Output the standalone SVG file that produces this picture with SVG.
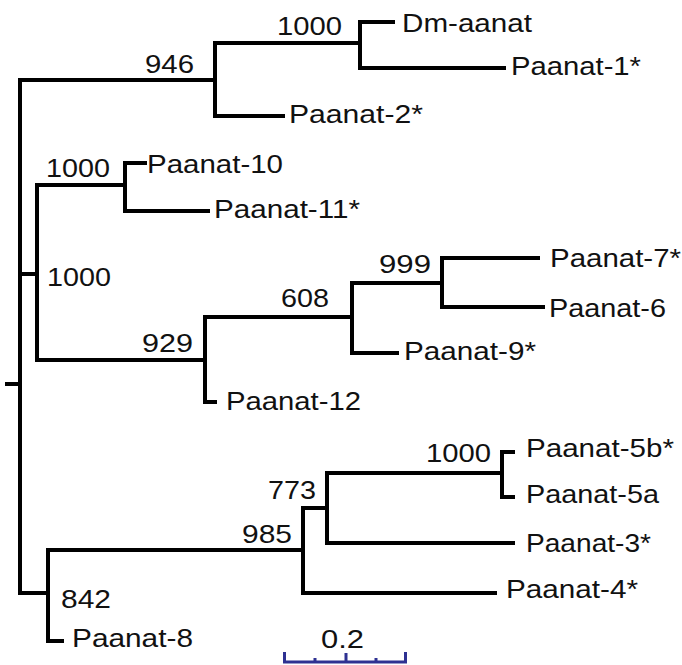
<svg xmlns="http://www.w3.org/2000/svg" width="682" height="665" viewBox="0 0 682 665">
  <style>
    .br { fill: none; stroke: #000; stroke-width: 4; stroke-linecap: square; }
    .lbl { font-family: "Liberation Sans", Arial, sans-serif; font-size: 25px; fill: #111; }
    .bs { font-family: "Liberation Sans", Arial, sans-serif; font-size: 25px; fill: #111; }
    .scale { fill: none; stroke: #2e3192; stroke-width: 3; }
  </style>
  <rect width="682" height="665" fill="#fff"/>

  <!-- tree branches -->
  <g id="branches" class="br">
    <path d="M7 384 H20 M20 80 V593"/>
    <!-- Dm / Paanat-1 / Paanat-2 clade -->
    <path d="M20 80 H215 M215 43 V116 M215 116 H283"/>
    <path d="M215 43 H360 M360 22 V68 M360 22 H393 M360 68 H504"/>
    <!-- Paanat-10/11/12/9/7/6 clade -->
    <path d="M20 274 H37 M37 185 V360"/>
    <path d="M37 185 H125 M125 163 V211 M125 163 H145 M125 211 H208"/>
    <path d="M37 360 H205 M205 317 V402 M205 402 H215"/>
    <path d="M205 317 H352 M352 283 V353 M352 353 H397"/>
    <path d="M352 283 H442 M442 258 V307 M442 258 H538 M442 307 H543"/>
    <!-- Paanat-8/4/3/5 clade -->
    <path d="M20 593 H48 M48 550 V641 M48 641 H62"/>
    <path d="M48 550 H303 M303 508 V593 M303 593 H495"/>
    <path d="M303 508 H327 M327 473 V543 M327 543 H513"/>
    <path d="M327 473 H502 M502 452 V497 M502 452 H513 M502 497 H513"/>
  </g>

  <!-- bootstrap support values -->
  <g id="support">
    <text class="bs" x="277" y="35" textLength="65" lengthAdjust="spacingAndGlyphs">1000</text>
    <text class="bs" x="145" y="73" textLength="49" lengthAdjust="spacingAndGlyphs">946</text>
    <text class="bs" x="46" y="177" textLength="64" lengthAdjust="spacingAndGlyphs">1000</text>
    <text class="bs" x="47" y="286" textLength="64" lengthAdjust="spacingAndGlyphs">1000</text>
    <text class="bs" x="281" y="307" textLength="48" lengthAdjust="spacingAndGlyphs">608</text>
    <text class="bs" x="142" y="352" textLength="51" lengthAdjust="spacingAndGlyphs">929</text>
    <text class="bs" x="379" y="273" textLength="52" lengthAdjust="spacingAndGlyphs">999</text>
    <text class="bs" x="426" y="462" textLength="65" lengthAdjust="spacingAndGlyphs">1000</text>
    <text class="bs" x="268" y="499" textLength="48" lengthAdjust="spacingAndGlyphs">773</text>
    <text class="bs" x="242" y="543" textLength="50" lengthAdjust="spacingAndGlyphs">985</text>
    <text class="bs" x="61" y="608" textLength="50" lengthAdjust="spacingAndGlyphs">842</text>
  </g>

  <!-- leaves -->
  <g id="dm-aanat"><text class="lbl" x="402" y="32" textLength="130" lengthAdjust="spacingAndGlyphs">Dm-aanat</text></g>
  <g id="paanat-1"><text class="lbl" x="511" y="75" textLength="130" lengthAdjust="spacingAndGlyphs">Paanat-1*</text></g>
  <g id="paanat-2"><text class="lbl" x="289" y="123" textLength="134" lengthAdjust="spacingAndGlyphs">Paanat-2*</text></g>
  <g id="paanat-10"><text class="lbl" x="147" y="173" textLength="136" lengthAdjust="spacingAndGlyphs">Paanat-10</text></g>
  <g id="paanat-11"><text class="lbl" x="214" y="218" textLength="146" lengthAdjust="spacingAndGlyphs">Paanat-11*</text></g>
  <g id="paanat-7"><text class="lbl" x="550" y="267" textLength="131" lengthAdjust="spacingAndGlyphs">Paanat-7*</text></g>
  <g id="paanat-6"><text class="lbl" x="549" y="317" textLength="117" lengthAdjust="spacingAndGlyphs">Paanat-6</text></g>
  <g id="paanat-9"><text class="lbl" x="404" y="360" textLength="132" lengthAdjust="spacingAndGlyphs">Paanat-9*</text></g>
  <g id="paanat-12"><text class="lbl" x="226" y="410" textLength="135" lengthAdjust="spacingAndGlyphs">Paanat-12</text></g>
  <g id="paanat-5b"><text class="lbl" x="526" y="457" textLength="148" lengthAdjust="spacingAndGlyphs">Paanat-5b*</text></g>
  <g id="paanat-5a"><text class="lbl" x="526" y="503" textLength="133" lengthAdjust="spacingAndGlyphs">Paanat-5a</text></g>
  <g id="paanat-3"><text class="lbl" x="526" y="552" textLength="125" lengthAdjust="spacingAndGlyphs">Paanat-3*</text></g>
  <g id="paanat-4"><text class="lbl" x="506" y="598" textLength="132" lengthAdjust="spacingAndGlyphs">Paanat-4*</text></g>
  <g id="paanat-8"><text class="lbl" x="72" y="647" textLength="121" lengthAdjust="spacingAndGlyphs">Paanat-8</text></g>

  <!-- scale bar -->
  <g id="scale-bar">
    <text class="lbl" x="321" y="648" textLength="43" lengthAdjust="spacingAndGlyphs">0.2</text>
    <path class="scale" d="M283 662 H407 M284.5 652 V662 M405.5 652 V662 M346 653 V662"/>
    <path class="scale" stroke-width="2" d="M315 658 V662 M376 658 V662"/>
  </g>
</svg>
